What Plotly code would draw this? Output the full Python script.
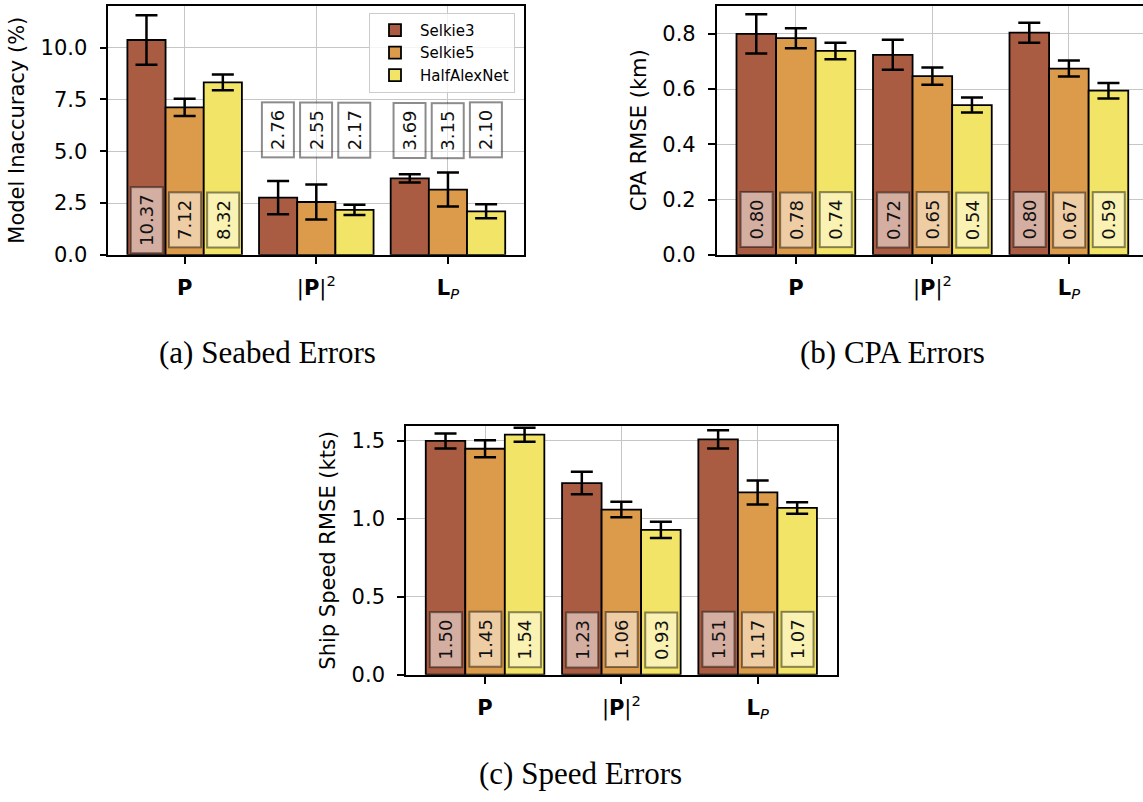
import plotly.graph_objects as go

# ---------------- data ----------------
series = ["Selkie3", "Selkie5", "HalfAlexNet"]
categories = ["<b>P</b>", "|<b>P</b>|<sup>2</sup>", "<b>L</b><sub><i>P</i></sub>"]

seabed_vals = {"Selkie3": [10.37, 2.76, 3.69],
               "Selkie5": [7.12, 2.55, 3.15],
               "HalfAlexNet": [8.32, 2.17, 2.10]}
seabed_err = {"Selkie3": [1.20, 0.80, 0.20],
              "Selkie5": [0.42, 0.85, 0.82],
              "HalfAlexNet": [0.38, 0.25, 0.34]}

cpa_vals = {"Selkie3": [0.800, 0.724, 0.804],
            "Selkie5": [0.784, 0.647, 0.674],
            "HalfAlexNet": [0.738, 0.542, 0.594]}
cpa_err = {"Selkie3": [0.071, 0.054, 0.036],
           "Selkie5": [0.036, 0.031, 0.029],
           "HalfAlexNet": [0.030, 0.027, 0.028]}

speed_vals = {"Selkie3": [1.50, 1.23, 1.51],
              "Selkie5": [1.45, 1.06, 1.17],
              "HalfAlexNet": [1.54, 0.93, 1.07]}
speed_err = {"Selkie3": [0.048, 0.072, 0.058],
             "Selkie5": [0.054, 0.050, 0.077],
             "HalfAlexNet": [0.045, 0.052, 0.037]}

colors = {"Selkie3": "#a95c42", "Selkie5": "#dc9b4a", "HalfAlexNet": "#f2e466"}

BAR_W = 0.29
offsets = {"Selkie3": -BAR_W, "Selkie5": 0.0, "HalfAlexNet": BAR_W}

W, H = 1143, 802

panels = [
    dict(vals=seabed_vals, err=seabed_err, ytitle="Model Inaccuracy (%)",
         xdom=[108.3, 524.3], ydom=[5.7, 258.7], xr=[-0.58, 2.58], yr=[0, 12.03],
         yt=[0, 2.5, 5, 7.5, 10], mirror_y=True, legend=True),
    dict(vals=cpa_vals, err=cpa_err, ytitle="CPA RMSE (km)",
         xdom=[716.7, 1143], ydom=[5.7, 258.7], xr=[-0.58, -0.58 + 426.3 / 136.5], yr=[0, 0.902],
         yt=[0, 0.2, 0.4, 0.6, 0.8], mirror_y=False, legend=False),
    dict(vals=speed_vals, err=speed_err, ytitle="Ship Speed RMSE (kts)",
         xdom=[406, 836.7], ydom=[432.3, 685], xr=[-0.58, 2.58], yr=[0, 1.597],
         yt=[0, 0.5, 1.0, 1.5], mirror_y=True, legend=False),
]
captions = [("(a) Seabed Errors", 267, 358), ("(b) CPA Errors", 892, 358), ("(c) Speed Errors", 580, 785)]

FONT = "DejaVu Sans"
fig = go.Figure()
annotations = []
layout = {}

for k, p in enumerate(panels):
    n = "" if k == 0 else str(k + 1)
    xa, ya = "x" + n, "y" + n
    for s in series:
        xs = [i + offsets[s] for i in range(len(categories))]
        fig.add_trace(go.Bar(
            x=xs, y=p["vals"][s], width=BAR_W, name=s,
            xaxis=xa, yaxis=ya,
            marker=dict(color=colors[s], line=dict(color="black", width=1.8)),
            error_y=dict(type="data", array=p["err"][s], color="black", thickness=2.5, width=11),
            showlegend=p["legend"],
        ))
        for i, v in enumerate(p["vals"][s]):
            frac = v / p["yr"][1]
            ypos = 0.141 if frac > 0.4 else 0.5
            txt = f"{v:.2f}"
            annotations.append(dict(
                x=i + offsets[s], xref=xa, y=ypos, yref=ya + " domain",
                text=txt, textangle=-90, showarrow=False,
                xanchor="center", yanchor="middle",
                font=dict(family=FONT, size=18, color="#111111"),
                bgcolor="rgba(255,255,255,0.5)", bordercolor="rgba(0,0,0,0.45)",
                borderwidth=2, borderpad=1,
                width=51 + (11 if len(txt) > 4 else 0), height=28,
            ))
    axis_common = dict(showline=True, linecolor="black", linewidth=1.6,
                       ticks="outside", ticklen=7, tickwidth=1.6, tickcolor="black",
                       showgrid=True, gridcolor="#c6c6c6", gridwidth=1.3, zeroline=False)
    layout["xaxis" + n] = dict(axis_common, domain=[p["xdom"][0] / W, p["xdom"][1] / W],
                               range=p["xr"], anchor=ya, tickmode="array",
                               tickvals=list(range(len(categories))), ticktext=categories,
                               tickfont=dict(family=FONT, size=21, color="black"),
                               ticklabelstandoff=6, mirror=True)
    layout["yaxis" + n] = dict(axis_common, domain=[1 - p["ydom"][1] / H, 1 - p["ydom"][0] / H],
                               range=p["yr"], anchor=xa, tickmode="array", tickvals=p["yt"],
                               tickformat=".1f", mirror=p["mirror_y"],
                               tickfont=dict(family=FONT, size=21, color="black"),
                               ticklabelstandoff=8,
                               title=dict(text=p["ytitle"], standoff=10,
                                          font=dict(family=FONT, size=21, color="black")))

for text, cx, cy in captions:
    annotations.append(dict(x=cx / W, y=1 - cy / H, xref="paper", yref="paper",
                            text=text, showarrow=False, xanchor="center", yanchor="middle",
                            font=dict(family="Liberation Serif", size=31, color="black")))

fig.update_layout(
    width=W, height=H, autosize=False,
    margin=dict(l=0, r=0, t=0, b=0),
    paper_bgcolor="white", plot_bgcolor="white",
    barmode="overlay",
    annotations=annotations,
    legend=dict(x=515 / W, y=1 - 13 / H, xanchor="right", yanchor="top",
                bgcolor="rgba(255,255,255,0.8)", bordercolor="#cccccc", borderwidth=1,
                itemwidth=40, tracegroupgap=0,
                font=dict(family=FONT, size=15, color="black")),
    **layout,
)

fig.write_html("out.html")
